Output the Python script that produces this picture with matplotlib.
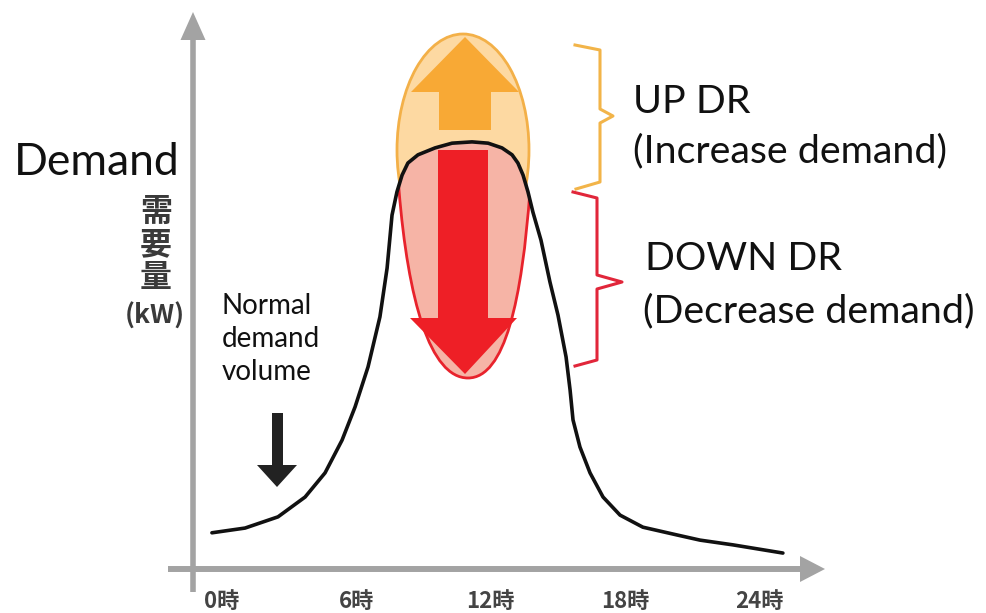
import numpy as np
import matplotlib
matplotlib.use('Agg')
import matplotlib.pyplot as plt
from matplotlib.patches import Polygon, Ellipse, PathPatch
from matplotlib.path import Path

# ---- data (hours vs. demand, peak ~ 100) ----
hours = [-0.45, 1.03, 2.50, 3.71, 4.60, 5.36, 5.94, 6.52, 7.05, 7.37, 7.59, 7.81,
         8.04, 8.30, 8.75, 9.51, 10.27, 11.16, 11.88, 12.50, 12.95, 13.21, 13.44,
         13.66, 13.88, 14.24, 14.64, 15.00, 15.36, 15.54, 15.67, 15.98, 16.43,
         17.01, 17.77, 18.79, 20.31, 21.34, 22.81, 25.04]
demand = [8.4, 9.5, 12.1, 16.7, 22.3, 29.9, 37.6, 46.9, 58.5, 69.8, 82.1, 87.5,
          91.4, 94.2, 96.1, 97.7, 98.8, 99.1, 98.8, 97.7, 96.1, 94.2, 91.4,
          87.5, 82.8, 76.3, 66.6, 58.9, 49.2, 41.5, 34.6, 28.3, 22.3,
          16.7, 12.5, 9.7, 7.9, 6.7, 5.6, 3.7]
tick_hours = [0, 6, 12, 18, 24]
tick_labels = ['0時', '6時', '12時', '18時', '24時']

W, H = 987, 613
X0, SX = 222, 22.4     # pixel of hour 0, px per hour
Y0, SY = 569, 4.31     # pixel of demand 0, px per unit


def P(x, y):
    """pixel position in the picture -> data coordinates"""
    return ((x - X0) / SX, (Y0 - y) / SY)


def PL(pts):
    return [P(x, y) for x, y in pts]


fig = plt.figure(figsize=(W / 100, H / 100), dpi=100)
ax = fig.add_axes([0, 0, 1, 1])
ax.set_xlim(-X0 / SX, (W - X0) / SX)
ax.set_ylim((Y0 - H) / SY, Y0 / SY)
ax.axis('off')

axis_c = '#a3a3a3'
# vertical axis with arrow
ax.plot(*zip(P(193, 592), P(193, 38)), color=axis_c, lw=4.0, solid_capstyle='butt', zorder=1)
ax.add_patch(Polygon(PL([(180.5, 40), (193, 12), (205.5, 40)]), closed=True, color=axis_c, lw=0, zorder=1))
# horizontal axis with arrow
ax.plot(*zip(P(168, 569), P(802, 569)), color=axis_c, lw=4.3, solid_capstyle='butt', zorder=1)
ax.add_patch(Polygon(PL([(800, 556), (825, 569), (800, 582)]), closed=True, color=axis_c, lw=0, zorder=1))

# orange ellipse (UP DR)
cx, cy = P(463, 150)
ax.add_patch(Ellipse((cx, cy), 132 / SX, 232 / SY, facecolor='#fdd9a2',
                     edgecolor='#f3b048', lw=2.0, zorder=2))
# orange up arrow
ax.add_patch(Polygon(PL([(439, 130), (439, 92), (411, 92), (465, 37), (519, 92), (491, 92), (491, 130)]),
                     closed=True, facecolor='#f8a935', edgecolor='none', zorder=3))

# pink tear-drop (DOWN DR) clipped below the curve
verts = PL([(395, 120), (399, 190), (408, 300), (430, 378), (468, 378),
            (505, 378), (522, 300), (530, 190), (534, 120), (395, 120)])
codes = [Path.MOVETO, Path.LINETO, Path.CURVE4, Path.CURVE4, Path.CURVE4,
         Path.CURVE4, Path.CURVE4, Path.CURVE4, Path.LINETO, Path.CLOSEPOLY]
drop = PathPatch(Path(verts, codes), facecolor='#f6b4a6', edgecolor='#e8232c', lw=2.0, zorder=3)
ax.add_patch(drop)
clip = Polygon(list(zip(hours, demand)) + [(hours[-1], -20), (hours[0], -20)],
               closed=True, transform=ax.transData)
drop.set_clip_path(clip)
# red down arrow
red_arrow = Polygon(PL([(438, 150), (438, 318), (410, 318), (465, 374), (517, 318), (488, 318), (488, 150)]),
                    closed=True, facecolor='#ee1f26', edgecolor='none', zorder=4)
ax.add_patch(red_arrow)
red_arrow.set_clip_path(clip)

# demand curve
ax.plot(hours, demand, color='#111111', lw=2.6, solid_joinstyle='round', solid_capstyle='round', zorder=6)

# braces
ax.plot(*zip(*PL([(575, 45), (600, 50), (600, 109), (613, 116), (600, 123), (600, 182), (576, 189)])),
        color='#f2b449', lw=2.2, zorder=5)
ax.plot(*zip(*PL([(573, 192), (597, 198), (597, 275), (622, 282), (597, 289), (597, 360), (575, 366)])),
        color='#e1263a', lw=2.2, zorder=5)

# texts
tf = 'Lato'
big = 28.4
ax.text(*P(633, 113), 'UP DR', fontsize=big, family=tf, va='baseline', ha='left', color='#111')
ax.text(*P(633, 162), '(Increase demand)', fontsize=big, family=tf, va='baseline', ha='left', color='#111')
ax.text(*P(645, 270), 'DOWN DR', fontsize=big, family=tf, va='baseline', ha='left', color='#111')
ax.text(*P(643, 322), '(Decrease demand)', fontsize=big, family=tf, va='baseline', ha='left', color='#111')
ax.text(*P(14, 175), 'Demand', fontsize=32, family=tf, va='baseline', ha='left', color='#111')
for txt, yb in zip(['Normal', 'demand', 'volume'], [314, 347, 380]):
    ax.text(*P(222, yb), txt, fontsize=20, family=tf, va='baseline', ha='left', color='#111')

# normal demand black arrow
ax.add_patch(Polygon(PL([(272, 413), (272, 465), (257, 465), (277, 487), (297, 465), (283, 465), (283, 413)]),
                     closed=True, facecolor='#222222', edgecolor='none', zorder=5))

# Japanese y-axis label
cjk = ['Noto Sans CJK JP', 'DejaVu Sans']
for ch, yc in zip(['需', '要', '量'], [212, 245, 278]):
    ax.text(*P(156, yc), ch, fontsize=23, family=cjk, weight='bold', ha='center', va='center', color='#3a3a3a')
ax.text(*P(155, 316), '(kW)', fontsize=19, family=cjk, weight='bold', ha='center', va='center', color='#3a3a3a')

# x tick labels
for h, lab in zip(tick_hours, tick_labels):
    ax.text(h, (Y0 - 601) / SY, lab, fontsize=16, family=cjk, weight='bold',
            ha='center', va='center', color='#444444')

fig.savefig('out.png', dpi=100)
